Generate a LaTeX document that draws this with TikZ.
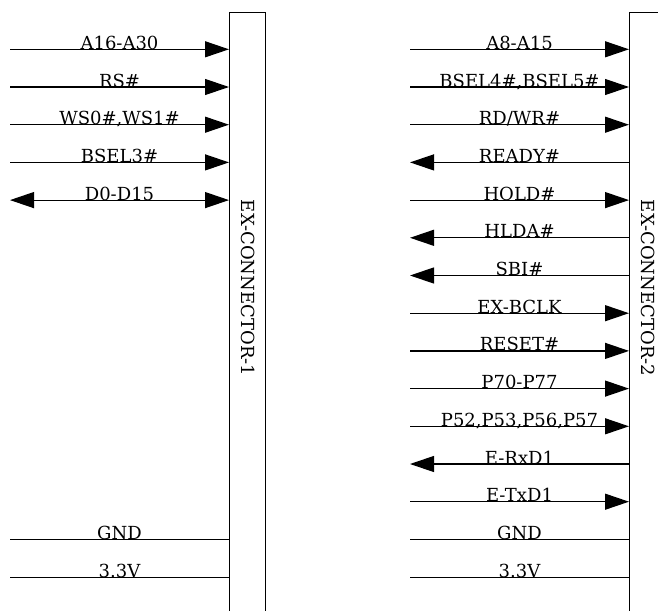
\documentclass[tikz,border=0pt]{standalone}
\usepackage{fontspec}
\setmainfont{DejaVu Serif}
\usetikzlibrary{arrows.meta}
\tikzset{
  sig/.style={line width=1.2pt},
  sigin/.style={sig, -{Triangle[length=24pt,width=16pt]}},
  sigout/.style={sig, {Triangle[length=24pt,width=16pt]}-},
  sigboth/.style={sig, {Triangle[length=24pt,width=16pt]}-{Triangle[length=24pt,width=16pt]}},
  siglabel/.style={anchor=base, inner sep=0pt, font=\fontsize{18}{22}\selectfont},
  conbox/.style={draw, line width=1.2pt, minimum width=36pt, minimum height=620pt, anchor=north west, inner sep=0pt},
  conname/.style={rotate=-90, inner sep=0pt, font=\fontsize{18}{22}\selectfont},
}

\begin{document}
\begin{tikzpicture}[x=1pt,y=-1pt]
	%%%%% START %%%%%
	\useasboundingbox (0,0) rectangle (658,610);
	\clip (0,0) rectangle (658,610);
	
	\node[conbox] (con1) at (229,12) {};
	\node[conbox] (con2) at (629,12) {};
	\node[conname] (name1) at (248,288) {EX-CONNECTOR-1};
	\node[conname] (name2) at (648,288) {EX-CONNECTOR-2};
	
	% connector 1
	\foreach \k/\txt/\st in {0/A16-A30/sigin, 1/RS\#/sigin, 2/{WS0\#,WS1\#}/sigin,
		3/BSEL3\#/sigin, 4/D0-D15/sigboth, 13/GND/sig, 14/3.3V/sig}{
		\coordinate (a\k) at (10,49.3+37.7*\k);
		\draw[\st] (a\k) -- (a\k -| con1.west) node[siglabel, midway] (la\k) {\txt};
	}
	
	% connector 2
	\foreach \k/\txt/\st in {0/A8-A15/sigin, 1/{BSEL4\#,BSEL5\#}/sigin, 2/RD\slash WR\#/sigin,
		3/READY\#/sigout, 4/HOLD\#/sigin, 5/HLDA\#/sigout, 6/SBI\#/sigout,
		7/EX-BCLK/sigin, 8/RESET\#/sigin, 9/P70-P77/sigin, 10/{P52,P53,P56,P57}/sigin,
		11/E-RxD1/sigout, 12/E-TxD1/sigin, 13/GND/sig, 14/3.3V/sig}{
		\coordinate (b\k) at (410,49.3+37.7*\k);
		\draw[\st] (b\k) -- (b\k -| con2.west) node[siglabel, midway] (lb\k) {\txt};
	}
	
	%%%%% END %%%%%
\end{tikzpicture}
\end{document}
